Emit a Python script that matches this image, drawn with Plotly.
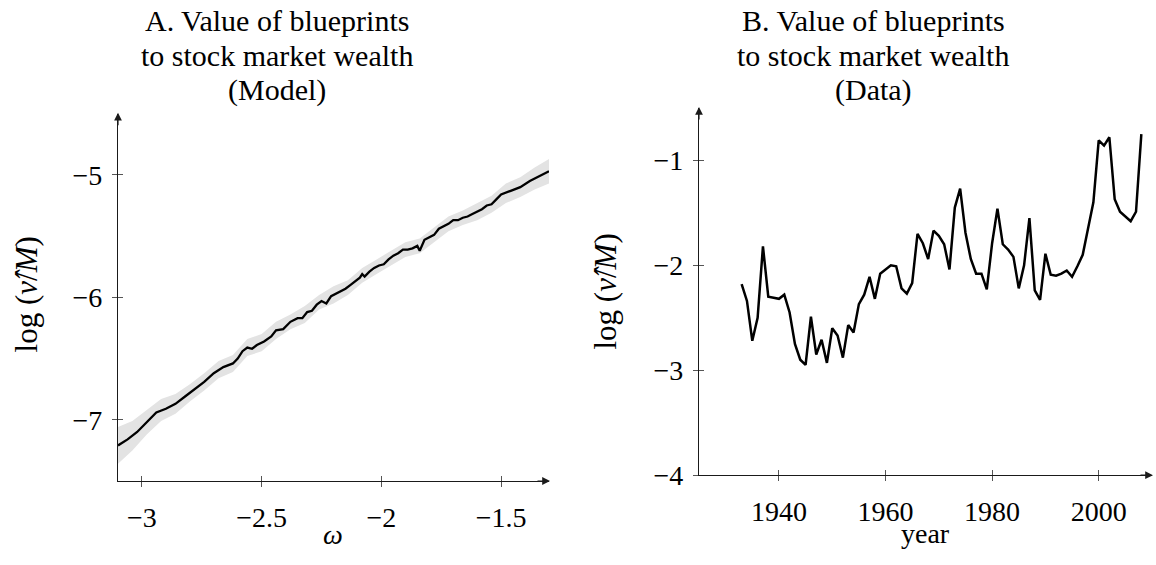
import plotly.graph_objects as go

W, H = 1156, 565

# ---- Panel A: model, value of blueprints vs omega ----
omega = [-3.10, -3.06, -3.02, -2.98, -2.94, -2.90, -2.86, -2.82, -2.78, -2.74,
         -2.70, -2.66, -2.62, -2.60, -2.58, -2.56, -2.54, -2.52, -2.49, -2.46,
         -2.44, -2.41, -2.38, -2.35, -2.33, -2.31, -2.29, -2.27, -2.25, -2.23,
         -2.21, -2.19, -2.17, -2.15, -2.13, -2.11, -2.09, -2.08, -2.07, -2.05,
         -2.03, -2.01, -1.99, -1.97, -1.95, -1.93, -1.91, -1.89, -1.87, -1.85,
         -1.84, -1.82, -1.80, -1.78, -1.76, -1.74, -1.72, -1.70, -1.68, -1.66,
         -1.64, -1.62, -1.60, -1.58, -1.56, -1.54, -1.52, -1.50, -1.46, -1.42,
         -1.38, -1.34, -1.30]
model = [-7.21, -7.16, -7.10, -7.02, -6.94, -6.91, -6.87, -6.81, -6.75, -6.69,
         -6.62, -6.57, -6.54, -6.50, -6.44, -6.41, -6.42, -6.39, -6.36, -6.32,
         -6.27, -6.26, -6.20, -6.17, -6.17, -6.12, -6.11, -6.06, -6.03, -6.05,
         -5.99, -5.97, -5.95, -5.93, -5.90, -5.87, -5.84, -5.81, -5.83, -5.79,
         -5.76, -5.74, -5.73, -5.69, -5.66, -5.64, -5.61, -5.61, -5.60, -5.58,
         -5.62, -5.53, -5.51, -5.49, -5.44, -5.42, -5.40, -5.37, -5.37, -5.35,
         -5.34, -5.32, -5.30, -5.28, -5.25, -5.24, -5.20, -5.16, -5.13, -5.10,
         -5.05, -5.01, -4.97]

band_omega = [-3.10, -3.04, -2.98, -2.92, -2.86, -2.80, -2.74, -2.68, -2.62, -2.56,
              -2.50, -2.44, -2.38, -2.32, -2.26, -2.20, -2.14, -2.08, -2.02, -1.96,
              -1.90, -1.84, -1.78, -1.72, -1.66, -1.60, -1.54, -1.48, -1.42, -1.36,
              -1.30]
band_hi = [-7.06, -7.01, -6.92, -6.83, -6.79, -6.71, -6.62, -6.52, -6.47, -6.34,
           -6.30, -6.20, -6.14, -6.07, -5.98, -5.91, -5.86, -5.76, -5.69, -5.62,
           -5.55, -5.52, -5.43, -5.34, -5.29, -5.23, -5.17, -5.07, -5.02, -4.94,
           -4.87]
band_lo = [-7.36, -7.25, -7.12, -7.01, -6.95, -6.85, -6.76, -6.66, -6.61, -6.48,
           -6.44, -6.34, -6.26, -6.21, -6.10, -6.05, -5.98, -5.88, -5.81, -5.74,
           -5.67, -5.64, -5.55, -5.46, -5.41, -5.37, -5.31, -5.23, -5.18, -5.12,
           -5.07]

# ---- Panel B: data, 1933-2008 ----
years = list(range(1933, 2009))
data = [-2.18, -2.34, -2.72, -2.50, -1.82, -2.30, -2.31, -2.32, -2.28, -2.45,
        -2.75, -2.90, -2.95, -2.49, -2.85, -2.71, -2.93, -2.60, -2.67, -2.88,
        -2.57, -2.64, -2.37, -2.28, -2.11, -2.32, -2.08, -2.04, -2.00, -2.01,
        -2.22, -2.27, -2.17, -1.70, -1.79, -1.94, -1.67, -1.72, -1.80, -2.04,
        -1.45, -1.27, -1.69, -1.94, -2.08, -2.08, -2.23, -1.79, -1.46, -1.80,
        -1.85, -1.92, -2.22, -2.00, -1.55, -2.24, -2.33, -1.89, -2.09, -2.10,
        -2.08, -2.05, -2.11, -2.01, -1.90, -1.65, -1.40, -0.81, -0.86, -0.78,
        -1.37, -1.49, -1.54, -1.58, -1.49, -0.75]

title_a = ["A. Value of blueprints", "to stock market wealth", "(Model)"]
title_b = ["B. Value of blueprints", "to stock market wealth", "(Data)"]

FONT = "Liberation Serif, DejaVu Serif, serif"
FS = 28
INK = "#1a1a1a"


def px_x(p):
    return p / W


def px_y(p):
    return 1 - p / H


# axis boxes in pixels: (left, right, top, bottom)
BOX_A = (118, 549, 117, 495)
BOX_B = (699, 1152, 111, 489)

fig = go.Figure()

# Panel A band + line
fig.add_trace(go.Scatter(x=band_omega, y=band_hi, mode="lines", line=dict(width=0),
                         hoverinfo="skip", showlegend=False, xaxis="x", yaxis="y"))
fig.add_trace(go.Scatter(x=band_omega, y=band_lo, mode="lines", line=dict(width=0),
                         fill="tonexty", fillcolor="#e3e3e3",
                         hoverinfo="skip", showlegend=False, xaxis="x", yaxis="y"))
fig.add_trace(go.Scatter(x=omega, y=model, mode="lines",
                         line=dict(color="black", width=2.3),
                         showlegend=False, xaxis="x", yaxis="y"))

# Panel B line
fig.add_trace(go.Scatter(x=years, y=data, mode="lines",
                         line=dict(color="black", width=2.5),
                         showlegend=False, xaxis="x2", yaxis="y2"))

# invisible traces so the overlay tick axes render
fig.add_trace(go.Scatter(x=omega, y=model, mode="none", hoverinfo="skip",
                         showlegend=False, xaxis="x3", yaxis="y3"))
fig.add_trace(go.Scatter(x=years, y=data, mode="none", hoverinfo="skip",
                         showlegend=False, xaxis="x4", yaxis="y4"))


def main_axis(box, horizontal, rng, tickvals, anchor):
    l, r, t, b = box
    dom = [px_x(l), px_x(r)] if horizontal else [px_y(b), px_y(t)]
    return dict(
        domain=dom, range=rng, anchor=anchor,
        showline=True, linecolor=INK, linewidth=1.2,
        ticks="outside", ticklen=5, tickwidth=1, tickcolor="#555",
        tickvals=tickvals, ticklabelstandoff=6 if horizontal else 4,
        tickfont=dict(family=FONT, size=FS, color="black"),
        showgrid=False, zeroline=False, fixedrange=True,
    )


def tick_axis(box, horizontal, rng, tickvals, anchor, over):
    l, r, t, b = box
    dom = [px_x(l), px_x(r)] if horizontal else [px_y(b), px_y(t)]
    return dict(
        domain=dom, range=rng, anchor=anchor, overlaying=over,
        showline=False, ticks="inside", ticklen=5, tickwidth=1, tickcolor="#555",
        tickvals=tickvals, showticklabels=False,
        showgrid=False, zeroline=False, fixedrange=True,
    )


XR_A, YR_A = [-3.1, -1.3], [-7.5, -4.5]
XR_B, YR_B = [1925, 2010], [-4.0, -0.5]
XT_A, YT_A = [-3, -2.5, -2, -1.5], [-7, -6, -5]
XT_B, YT_B = [1940, 1960, 1980, 2000], [-4, -3, -2, -1]

fig.update_layout(
    width=W, height=H,
    paper_bgcolor="white", plot_bgcolor="rgba(0,0,0,0)",
    margin=dict(l=0, r=0, t=0, b=0),
    showlegend=False,
    xaxis=main_axis(BOX_A, True, XR_A, XT_A, "y"),
    yaxis=main_axis(BOX_A, False, YR_A, YT_A, "x"),
    xaxis2=main_axis(BOX_B, True, XR_B, XT_B, "y2"),
    yaxis2=main_axis(BOX_B, False, YR_B, YT_B, "x2"),
    xaxis3=tick_axis(BOX_A, True, XR_A, XT_A, "y3", "x"),
    yaxis3=tick_axis(BOX_A, False, YR_A, YT_A, "x3", "y"),
    xaxis4=tick_axis(BOX_B, True, XR_B, XT_B, "y4", "x2"),
    yaxis4=tick_axis(BOX_B, False, YR_B, YT_B, "x4", "y2"),
)

annots = []
# axis arrows
for (l, r, t, b) in (BOX_A, BOX_B):
    annots.append(dict(xref="paper", yref="paper", x=px_x(r + 1), y=px_y(b),
                       ax=-14, ay=0, text="", showarrow=True,
                       arrowhead=2, arrowsize=1.3, arrowwidth=1.2, arrowcolor=INK))
    annots.append(dict(xref="paper", yref="paper", x=px_x(l), y=px_y(t - 1),
                       ax=0, ay=14, text="", showarrow=True,
                       arrowhead=2, arrowsize=1.3, arrowwidth=1.2, arrowcolor=INK))

txt = dict(family=FONT, size=FS, color="black")
ttl = dict(family=FONT, size=30, color="black")
lab = dict(family=FONT, size=31, color="black")


def label(x, y, text, font, angle=0):
    return dict(xref="paper", yref="paper", x=px_x(x), y=px_y(y),
                xanchor="center", yanchor="middle", textangle=angle,
                text=text, showarrow=False, font=font)


# three title lines per panel, spaced like the LaTeX original
for cx, lines in ((277, title_a), (873, title_b)):
    for y, line in zip((21, 57, 93), lines):
        annots.append(label(cx, y, line, ttl))

annots += [
    label(26, 303, "log (<i>ν̂</i>/<i>M</i>)", lab, angle=-90),
    label(606, 300, "log (<i>ν̂</i>/<i>M</i>)", lab, angle=-90),
    label(333, 550, "<i>ω</i>", txt),
    label(926, 549, "year", txt),
]
fig.update_layout(annotations=annots)

fig.write_html("out.html", config={"displayModeBar": False},
               post_script="document.body.style.margin='0';")
